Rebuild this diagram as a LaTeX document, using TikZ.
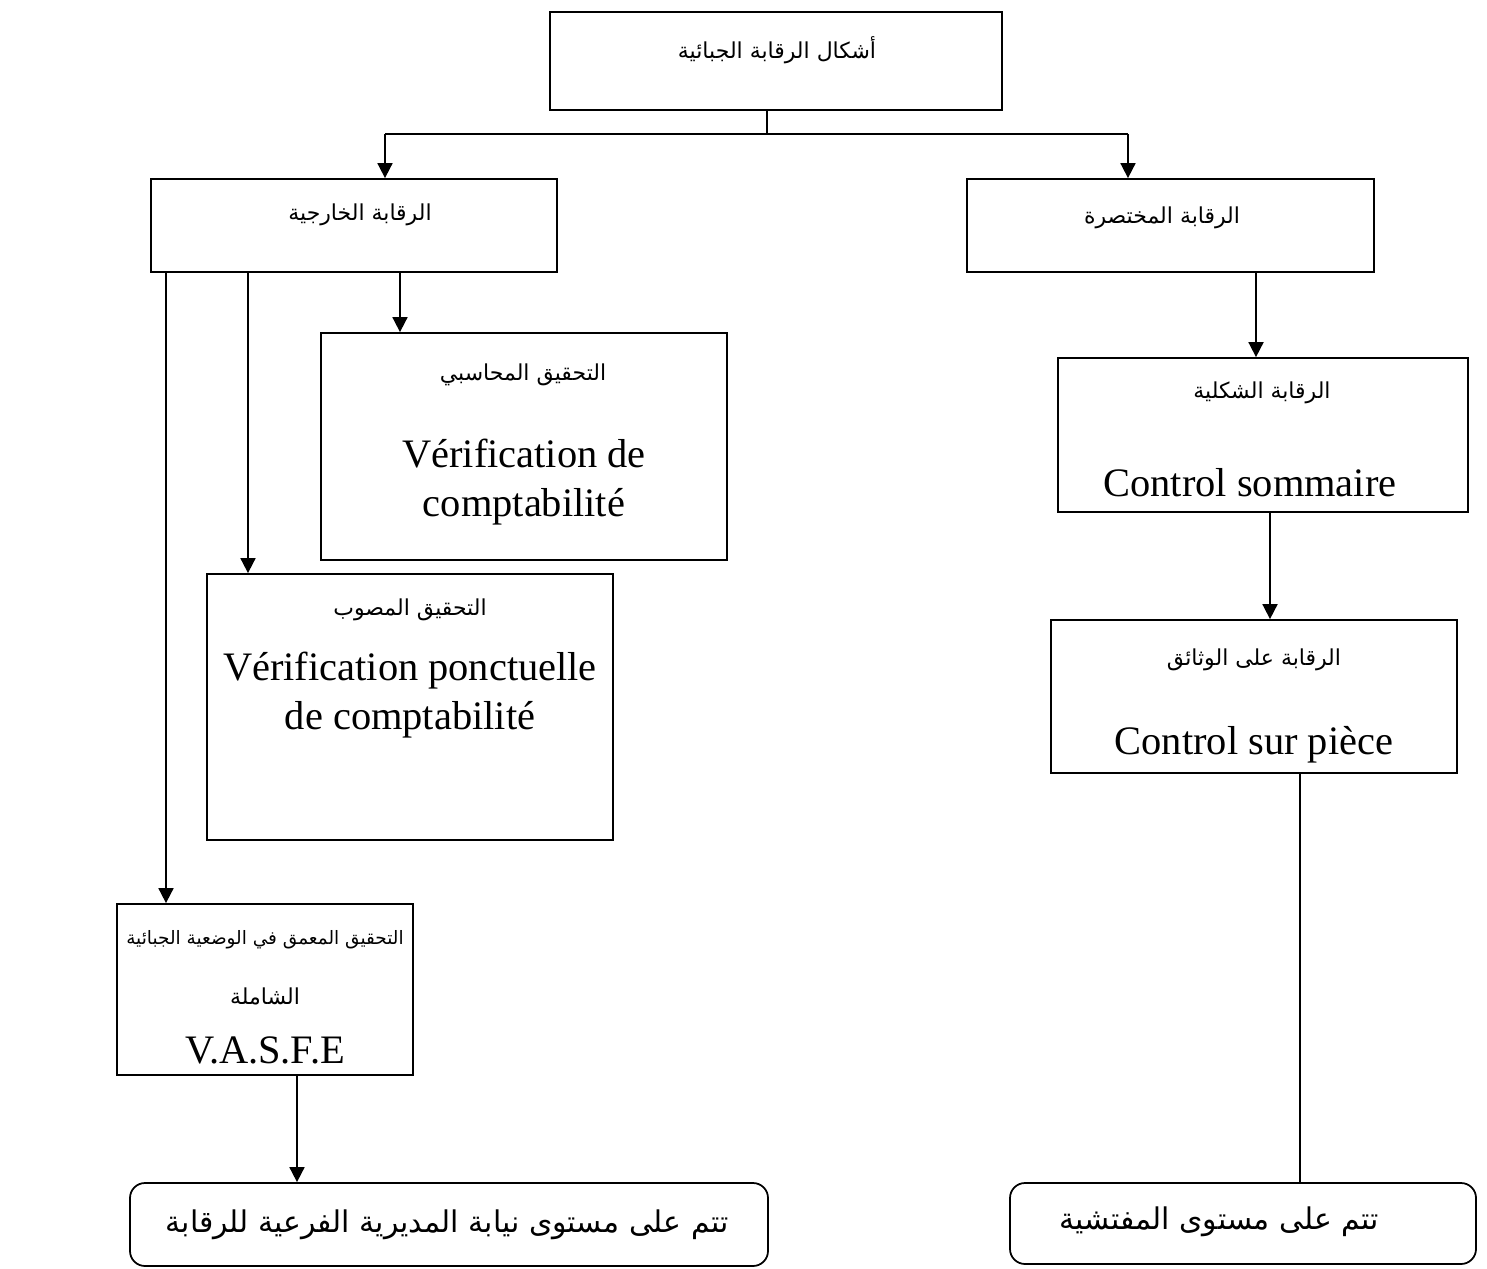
\documentclass[tikz,border=0pt]{standalone}
\usepackage{fontspec}
\setmainfont{Liberation Serif}
\newfontfamily\arabicfont[Script=Arabic]{DejaVu Sans}
\TeXXeTstate=1
\usetikzlibrary{arrows.meta}
\newcommand{\artxt}[1]{{\arabicfont\beginR #1\endR}}

\begin{document}
\begin{tikzpicture}[x=0.2mm,y=-0.2mm,line width=1pt,>={Triangle[length=3mm,width=3mm]},
  box/.style={draw,rectangle,inner sep=0pt},
  rbox/.style={draw,rectangle,rounded corners=3mm,inner sep=0pt},
  lab/.style={font=\fontsize{12.5}{14}\selectfont},
  fr/.style={font=\fontsize{23}{28}\selectfont,align=center},
  big/.style={font=\fontsize{17}{20}\selectfont}]
  \useasboundingbox (0,0) rectangle (1487,1269);
  % boxes
  \node[box,minimum width=90.4mm,minimum height=19.6mm] (top) at (776,61) {};
  \node[box,minimum width=81.2mm,minimum height=18.6mm] (ext) at (354,225.5) {};
  \node[box,minimum width=81.4mm,minimum height=18.6mm] (sum) at (1170.5,225.5) {};
  \node[box,minimum width=81.2mm,minimum height=45.4mm] (hesabi) at (524,446.5) {};
  \node[box,minimum width=81.2mm,minimum height=53.2mm] (musawwab) at (410,707) {};
  \node[box,minimum width=59.2mm,minimum height=34.2mm] (vasfe) at (265,989.5) {};
  \node[box,minimum width=82mm,minimum height=30.8mm] (som) at (1263,435) {};
  \node[box,minimum width=81.2mm,minimum height=30.6mm] (piece) at (1254,696.5) {};
  \node[rbox,minimum width=127.6mm,minimum height=16.6mm] (rbl) at (449,1224.5) {};
  \node[rbox,minimum width=93.2mm,minimum height=16.2mm] (rbr) at (1243,1223.5) {};
  % texts
  \node[lab] (tTop) at (777,50) {\artxt{أشكال الرقابة الجبائية}};
  \node[lab] (tExt) at (360,215) {\artxt{الرقابة الخارجية}};
  \node[lab] (tSum) at (1162,218) {\artxt{الرقابة المختصرة}};
  \node[lab] (tHes) at (523,375) {\artxt{التحقيق المحاسبي}};
  \node[fr] (fHes) at (524,482) {Vérification de\\comptabilité};
  \node[lab] (tMus) at (410,610) {\artxt{التحقيق المصوب}};
  \node[fr] (fMus) at (410,695) {Vérification ponctuelle\\de comptabilité};
  \node[lab,font=\fontsize{10.5}{12}\selectfont] (tVa1) at (265,940) {\artxt{التحقيق المعمق في الوضعية الجبائية}};
  \node[lab] (tVa2) at (265,996) {\artxt{الشاملة}};
  \node[fr] (fVa) at (265,1050) {V.A.S.F.E};
  \node[lab] (tSom) at (1262,393) {\artxt{الرقابة الشكلية}};
  \node[fr] (fSom) at (1250,483) {Control sommaire};
  \node[lab] (tPie) at (1254,660) {\artxt{الرقابة على الوثائق}};
  \node[fr] (fPie) at (1254,745) {Control sur pièce};
  \node[big] (tRbl) at (447,1225) {\artxt{تتم على مستوى نيابة المديرية الفرعية للرقابة}};
  \node[big] (tRbr) at (1219,1222) {\artxt{تتم على مستوى المفتشية}};
  % connectors
  \coordinate (split) at (767,134);
  \coordinate (sl) at (385,134);
  \coordinate (sr) at (1128,134);
  \draw (top.south -| split) -- (split);
  \draw (sl) -- (sr);
  \draw[->] (sl) -- (sl |- ext.north);
  \draw[->] (sr) -- (sr |- sum.north);
  \foreach \x/\n in {166/vasfe,248/musawwab,400/hesabi}
    \draw[->] (\x,0 |- ext.south) -- (\x,0 |- \n.north);
  \draw[->] (1256,0 |- sum.south) -- (1256,0 |- som.north);
  \draw[->] (1270,0 |- som.south) -- (1270,0 |- piece.north);
  \draw (1300,0 |- piece.south) -- (1300,0 |- rbr.north);
  \draw[->] (297,0 |- vasfe.south) -- (297,0 |- rbl.north);
\end{tikzpicture}
\end{document}
